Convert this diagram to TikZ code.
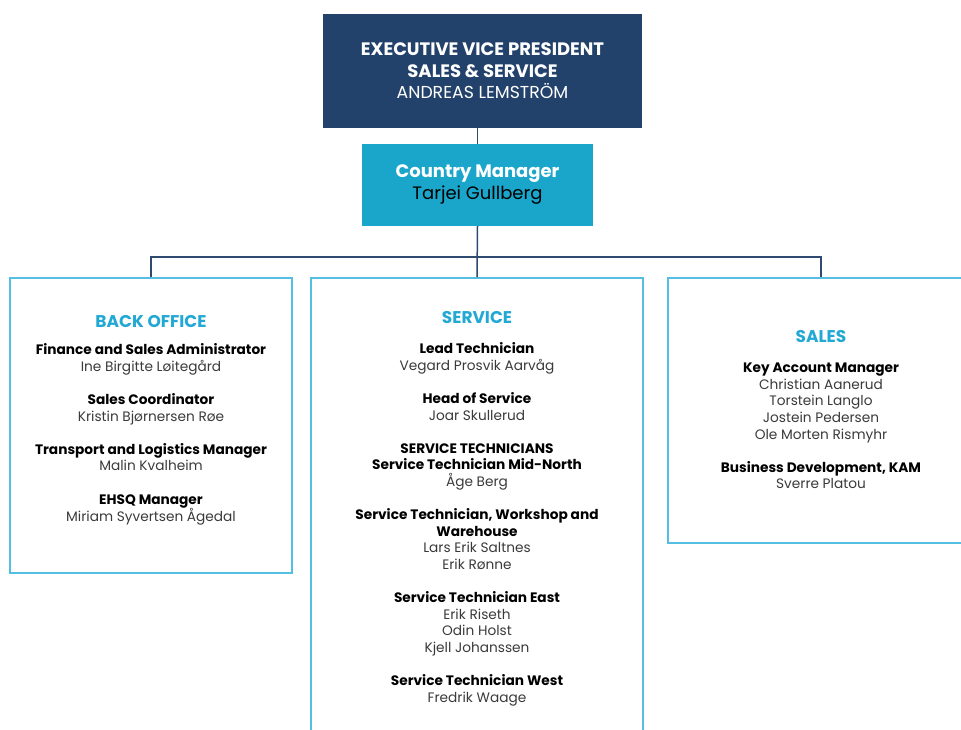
\documentclass[tikz,border=0pt]{standalone}
\usepackage{fontspec}
\setmainfont{Poppins}
\usetikzlibrary{positioning}
\definecolor{evpnavy}{HTML}{23426B}
\definecolor{cmblue}{HTML}{1AA5CB}
\definecolor{framecyan}{HTML}{55BEE3}
\definecolor{headcyan}{HTML}{22A8D4}
\definecolor{linenavy}{HTML}{2E4A70}
\definecolor{namegray}{HTML}{3A3A3A}
\newcommand{\role}[1]{{\bfseries\color{black}#1}}
\newcommand{\unithead}[1]{{\fontsize{17}{16.6}\selectfont\bfseries\color{headcyan}#1}}
\begin{document}
\begin{tikzpicture}[x=1pt,y=1pt,
  unitbox/.style={draw=framecyan,line width=1.6pt,inner sep=0pt},
  unittext/.style={align=center,inner sep=0pt,text=namegray,
    font=\fontsize{13.7}{16.6}\selectfont},
  link/.style={draw=linenavy,line width=1.5pt}]
  \useasboundingbox (0,0) rectangle (961,-729);
  \clip (0,0) rectangle (961,-729);
  \node[fill=evpnavy,minimum width=319pt,minimum height=114pt,inner sep=0pt,
    align=center,text=white,font=\fontsize{18}{21.5}\selectfont] (evp) at (482.5,-71)
    {\bfseries EXECUTIVE VICE PRESIDENT\\ \bfseries SALES \& SERVICE\\ {\fontsize{17.3}{21.5}\selectfont ANDREAS LEMSTRÖM}};
  \node[fill=cmblue,minimum width=231pt,minimum height=82pt,inner sep=0pt,
    align=center,font=\fontsize{18}{22}\selectfont] (cm) at (477.5,-185)
    {{\bfseries\color{white}Country Manager}\\ {\color{black}Tarjei Gullberg}};
  \node[unitbox,minimum width=282pt,minimum height=295pt] (bo) at (151,-425.5) {};
  \node[unitbox,minimum width=332pt,minimum height=482pt] (sv) at (477,-519) {};
  \node[unitbox,minimum width=306pt,minimum height=265pt] (sl) at (821,-410.5) {};
  \node[unittext,below=38pt of bo.north] (botxt) {\unithead{BACK OFFICE}\\[10.5pt]
    \role{Finance and Sales Administrator}\\ Ine Birgitte Løitegård\\[16.6pt]
    \role{Sales Coordinator}\\ Kristin Bjørnersen Røe\\[16.6pt]
    \role{Transport and Logistics Manager}\\ Malin Kvalheim\\[16.6pt]
    \role{EHSQ Manager}\\ Miriam Syvertsen Ågedal};
  \node[unittext,below=34pt of sv.north] (svtxt) {\unithead{SERVICE}\\[13.5pt]
    \role{Lead Technician}\\ Vegard Prosvik Aarvåg\\[16.6pt]
    \role{Head of Service}\\ Joar Skullerud\\[16.6pt]
    \role{SERVICE TECHNICIANS}\\ \role{Service Technician Mid-North}\\ Åge Berg\\[16.6pt]
    \role{Service Technician, Workshop and}\\ \role{Warehouse}\\ Lars Erik Saltnes\\ Erik Rønne\\[16.6pt]
    \role{Service Technician East}\\ Erik Riseth\\ Odin Holst\\ Kjell Johanssen\\[16.6pt]
    \role{Service Technician West}\\ Fredrik Waage};
  \node[unittext,below=53pt of sl.north] (sltxt) {\unithead{SALES}\\[13.5pt]
    \role{Key Account Manager}\\ Christian Aanerud\\ Torstein Langlo\\ Jostein Pedersen\\ Ole Morten Rismyhr\\[16.6pt]
    \role{Business Development, KAM}\\ Sverre Platou};
  \coordinate (bus) at (477,-257);
  \draw[link] (evp.south -| cm.north) -- (cm.north);
  \draw[link] (cm.south) -- (sv.north);
  \draw[link] (bo.north) |- (bus) -| (sl.north);
\end{tikzpicture}
\end{document}
